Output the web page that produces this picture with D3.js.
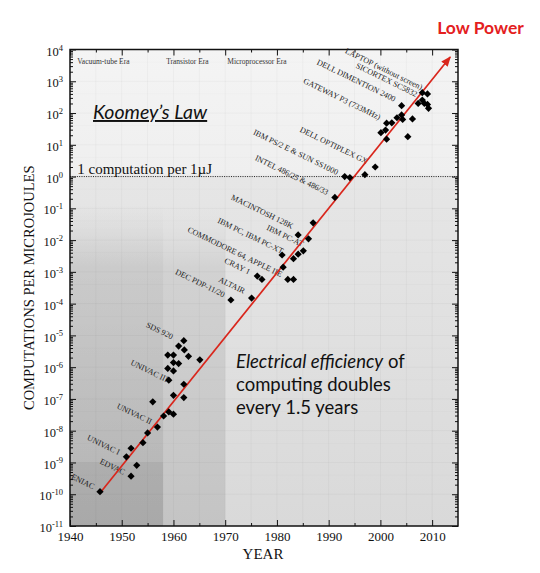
<!DOCTYPE html>
<html>
<head>
<meta charset="utf-8">
<script src="https://cdn.jsdelivr.net/npm/d3@7"></script>
<style>
  body { margin: 0; background: #fff; }
  svg { display: block; }
</style>
</head>
<body>
<div id="graf"></div>
<script>
// Datos
const pointYears = [
  1945.8, 1951.8, 1952.9, 1950.9, 1951.8, 1954.1, 1955.0, 1956.9, 1958.1, 1959.1,
  1960.0, 1956.0, 1960.0, 1962.0, 1962.0, 1959.1, 1960.0, 1958.9, 1961.0, 1960.0,
  1958.9, 1960.0, 1962.9, 1965.1, 1961.0, 1962.0, 1962.1,
  1971.1, 1975.1, 1976.2, 1977.1, 1981.2, 1982.1, 1983.2, 1981.0, 1983.2, 1984.1,
  1985.1, 1984.1, 1986.1, 1987.0, 1991.2, 1993.1, 1994.1, 1997.0, 1999.0,
  2000.1, 2001.0, 2001.2, 2001.2, 2002.2, 2003.2, 2004.1, 2004.3, 2004.1, 2005.3,
  2006.2, 2007.3, 2008.1, 2008.1, 2009.1, 2008.5, 2009.1, 2009.3
];
const pointValues = [
  1.2e-10, 3.7e-10, 8.1e-10, 1.5e-9, 2.8e-9, 4.2e-9, 8.5e-9, 1.3e-8, 2.9e-8, 3.9e-8,
  3.3e-8, 8.1e-8, 1.3e-7, 1.1e-7, 2.9e-7, 3.9e-7, 7.6e-7, 9.1e-7, 1.3e-6, 1.4e-6,
  2.4e-6, 2.4e-6, 2.2e-6, 1.7e-6, 4.6e-6, 6.8e-6, 3.5e-6,
  1.3e-4, 1.5e-4, 7.4e-4, 5.8e-4, 1.4e-3, 5.8e-4, 5.8e-4, 3.4e-3, 2.6e-3, 3.6e-3,
  4.6e-3, 0.0145, 0.011, 0.035, 0.22, 1.0, 0.93, 1.15, 2.0,
  24, 29, 15, 48, 49, 71, 87, 63, 170, 18,
  65, 200, 257, 436, 398, 200, 186, 141
];

// Etiquetas de los equipos (año y valor donde termina el texto)
const labelNames = [
  "LAPTOP (without screen)", "SICORTEX SC5832", "DELL DIMENTION 2400", "GATEWAY P3 (733MHz)",
  "DELL OPTIPLEX GX", "IBM PS/2 E & SUN SS1000", "INTEL 486/25 & 486/33", "MACINTOSH 128K",
  "IBM PC-AT", "IBM PC, IBM PC-XT", "COMMODORE 64, APPLE IIE", "CRAY 1", "ALTAIR",
  "DEC PDP-11/20", "SDS 920", "UNIVAC III", "UNIVAC II", "UNIVAC I", "EDVAC", "ENIAC"
];
const labelYears = [
  2008.2, 2007.2, 2003.0, 2000.1, 1997.6, 1991.9, 1990.0, 1983.2, 1985.2, 1981.3,
  1981.1, 1974.9, 1973.9, 1970.0, 1960.0, 1959.0, 1955.9, 1949.7, 1950.7, 1944.8
];
const labelValues = [
  7.1e2, 4.3e2, 3.0e2, 8.1e1, 3.3, 1.5, 0.35, 0.030, 8.1e-3, 4.9e-3,
  9.1e-4, 1.1e-3, 2.7e-4, 2.1e-4, 1.0e-5, 4.5e-7, 2.1e-8, 2.3e-9, 5.4e-10, 1.9e-10
];

// Eras
const eraNames = ["Vacuum-tube Era", "Transistor Era", "Microprocessor Era"];
const eraStarts = [1940, 1958, 1970];
const eraLabelYears = [1941.4, 1958.6, 1970.4];

// Tendencia (Koomey)
const trendYears = [1946, 2013.5];
const trendValues = [1.2e-10, 5.8e3];

const xTicks = [1940, 1950, 1960, 1970, 1980, 1990, 2000, 2010];
const yExponents = [-11, -10, -9, -8, -7, -6, -5, -4, -3, -2, -1, 0, 1, 2, 3, 4];

// Area total
const W = 540, H = 573;
const margins = { top: 49.5, left: 70, right: 82, bottom: 47 };
const ancho = W - margins.left - margins.right;
const alto = H - margins.top - margins.bottom;

const svg = d3.select("#graf").append("svg").attr("width", W).attr("height", H);

const x = d3.scaleLinear().domain([1940, 2015]).range([margins.left, margins.left + ancho]);
const y = d3.scaleLog().domain([1e-11, 1e4]).range([margins.top + alto, margins.top]);

const defs = svg.append("defs");

function vGrad(id, stops) {
  const g = defs.append("linearGradient").attr("id", id)
    .attr("x1", 0).attr("y1", 0).attr("x2", 0).attr("y2", 1);
  stops.forEach((s) => g.append("stop").attr("offset", s[0]).attr("stop-color", s[1]).attr("stop-opacity", s[2] == null ? 1 : s[2]));
}
vGrad("bgGrad", [[0, "#f4f4f4"], [0.26, "#efefef"], [0.27, "#e6e6e6"], [1, "#d9d9d9"]]);
vGrad("oldGrad", [[0, "#e2e2e2", 0], [0.2, "#d2d2d2"], [1, "#c4c4c4"]]);
vGrad("vacGrad", [[0, "#000", 0], [0.15, "#000", 0.03], [1, "#000", 0.09]]);

// Fondo
svg.append("rect")
  .attr("x", x(1940)).attr("y", y(1e4))
  .attr("width", ancho).attr("height", alto)
  .attr("fill", "url(#bgGrad)");

// Sombreado de eras antiguas
svg.append("rect")
  .attr("x", x(eraStarts[0])).attr("y", y(10 ** -0.8))
  .attr("width", x(eraStarts[2]) - x(eraStarts[0]))
  .attr("height", y(1e-11) - y(10 ** -0.8))
  .attr("fill", "url(#oldGrad)");
svg.append("rect")
  .attr("x", x(eraStarts[0])).attr("y", y(10 ** -0.8))
  .attr("width", x(eraStarts[1]) - x(eraStarts[0]))
  .attr("height", y(1e-11) - y(10 ** -0.8))
  .attr("fill", "url(#vacGrad)");
svg.append("rect")
  .attr("x", x(eraStarts[0])).attr("y", y(1e-9))
  .attr("width", x(eraStarts[1]) - x(eraStarts[0]))
  .attr("height", y(1e-11) - y(1e-9))
  .attr("fill", "#000").attr("fill-opacity", 0.05);

// Rejilla
const grid = svg.append("g").attr("stroke", "#000").attr("stroke-opacity", 0.045).attr("stroke-width", 0.8);
d3.range(1945, 2015, 5).forEach((yr) => {
  grid.append("line").attr("x1", x(yr)).attr("x2", x(yr)).attr("y1", y(1e4)).attr("y2", y(1e-11));
});
yExponents.slice(1, -1).forEach((e) => {
  grid.append("line").attr("x1", x(1940)).attr("x2", x(2015)).attr("y1", y(10 ** e)).attr("y2", y(10 ** e));
  grid.append("line").attr("stroke-opacity", 0.025)
    .attr("x1", x(1940)).attr("x2", x(2015)).attr("y1", y(4 * 10 ** e)).attr("y2", y(4 * 10 ** e));
});

// Linea 1 computacion por uJ
svg.append("line")
  .attr("x1", x(1940)).attr("x2", x(2015)).attr("y1", y(1)).attr("y2", y(1))
  .attr("stroke", "#222").attr("stroke-width", 1).attr("stroke-dasharray", "1,1.3");
svg.append("text")
  .attr("x", x(1941.4)).attr("y", y(1) - 3)
  .attr("font-family", "Liberation Serif").attr("font-size", 15).attr("fill", "#111")
  .text("1 computation per 1\u00b5J");

// Ejes
const minorX = d3.range(1945, 2015, 10);
const minorY = [];
yExponents.slice(0, -1).forEach((e) => d3.range(2, 10).forEach((m) => minorY.push(m * 10 ** e)));

const xAxis = svg.append("g").attr("transform", `translate(0,${y(1e-11)})`)
  .call(d3.axisBottom(x).tickValues(xTicks).tickSize(-6).tickPadding(6).tickFormat(d3.format("d")));
svg.append("g").attr("transform", `translate(0,${y(1e-11)})`)
  .call(d3.axisBottom(x).tickValues(minorX).tickSize(-3).tickFormat(""));
svg.append("g").attr("transform", `translate(0,${y(1e4)})`)
  .call(d3.axisTop(x).tickValues(xTicks).tickSize(-6).tickFormat(""));
svg.append("g").attr("transform", `translate(0,${y(1e4)})`)
  .call(d3.axisTop(x).tickValues(minorX).tickSize(-3).tickFormat(""));

const yAxis = svg.append("g").attr("transform", `translate(${x(1940)},0)`)
  .call(d3.axisLeft(y).tickValues(yExponents.map((e) => 10 ** e)).tickSize(-6).tickPadding(7).tickFormat(""));
svg.append("g").attr("transform", `translate(${x(1940)},0)`)
  .call(d3.axisLeft(y).tickValues(minorY).tickSize(-3).tickFormat(""));
svg.append("g").attr("transform", `translate(${x(2015)},0)`)
  .call(d3.axisRight(y).tickValues(yExponents.map((e) => 10 ** e)).tickSize(-6).tickFormat(""));
svg.append("g").attr("transform", `translate(${x(2015)},0)`)
  .call(d3.axisRight(y).tickValues(minorY).tickSize(-3).tickFormat(""));

svg.selectAll(".domain").remove();
svg.selectAll(".tick line").attr("stroke", "#111").attr("stroke-width", 1);

xAxis.selectAll("text")
  .attr("font-family", "Liberation Serif").attr("font-size", 13).attr("fill", "#111");

// etiquetas 10^n
yAxis.selectAll(".tick text").each(function (d) {
  const t = d3.select(this);
  const e = Math.round(Math.log10(d));
  t.attr("font-family", "Liberation Serif").attr("font-size", 12.5).attr("fill", "#111").attr("dy", "0.45em");
  t.append("tspan").text("10");
  t.append("tspan").attr("font-size", 8.5).attr("dy", "-0.6em").text(e);
});

// Marco
svg.append("rect")
  .attr("x", x(1940)).attr("y", y(1e4)).attr("width", ancho).attr("height", alto)
  .attr("fill", "none").attr("stroke", "#111").attr("stroke-width", 1.5);

// Nombres de eras
svg.append("g").selectAll("text").data(eraNames).join("text")
  .attr("x", (d, i) => x(eraLabelYears[i])).attr("y", y(1e4) + 14)
  .attr("font-family", "Liberation Serif").attr("font-size", 7.5).attr("fill", "#333")
  .text((d) => d);

// Etiquetas de equipos
svg.append("g").selectAll("text").data(labelNames).join("text")
  .attr("transform", (d, i) => `translate(${x(labelYears[i])},${y(labelValues[i])}) rotate(26)`)
  .attr("text-anchor", "end").attr("dy", "0.55em")
  .attr("font-family", "Liberation Serif").attr("font-size", 8.1).attr("fill", "#222")
  .text((d) => d);

// Linea de tendencia
defs.append("marker").attr("id", "flecha")
  .attr("viewBox", "0 0 10 10").attr("refX", 9).attr("refY", 5)
  .attr("markerWidth", 6).attr("markerHeight", 6).attr("orient", "auto")
  .append("path").attr("d", "M0,1 L10,5 L0,9 Z").attr("fill", "#d9261c");

const lineaGen = d3.line().x((d) => x(d[0])).y((d) => y(d[1]));
svg.append("path")
  .attr("d", lineaGen(d3.zip(trendYears, trendValues)))
  .attr("fill", "none").attr("stroke", "#d9261c").attr("stroke-width", 1.7)
  .attr("marker-end", "url(#flecha)");

// Puntos
svg.append("g").selectAll("path").data(pointYears).join("path")
  .attr("d", d3.symbol(d3.symbolSquare, 26))
  .attr("transform", (d, i) => `translate(${x(d)},${y(pointValues[i])}) rotate(45)`)
  .attr("fill", "#000");

// Titulos
svg.append("text")
  .attr("transform", `translate(34,${(y(1e4) + y(1e-11)) / 2}) rotate(-90)`)
  .attr("text-anchor", "middle")
  .attr("font-family", "Liberation Serif").attr("font-size", 14.5).attr("fill", "#111")
  .text("COMPUTATIONS PER MICROJOULES");

svg.append("text")
  .attr("x", 263).attr("y", 559).attr("text-anchor", "middle")
  .attr("font-family", "Liberation Serif").attr("font-size", 15).attr("fill", "#111")
  .text("YEAR");

svg.append("text")
  .attr("x", 93).attr("y", 119)
  .attr("font-family", "Lato").attr("font-style", "italic").attr("font-size", 19.5)
  .attr("text-decoration", "underline").attr("fill", "#111")
  .text("Koomey\u2019s Law");

svg.append("text")
  .attr("x", 480.5).attr("y", 34).attr("text-anchor", "middle")
  .attr("font-family", "Lato").attr("font-weight", "bold").attr("font-size", 17.5).attr("fill", "#e4201e")
  .text("Low Power");

const nota = svg.append("text")
  .attr("font-family", "Lato").attr("font-size", 18.5).attr("fill", "#111");
const l1 = nota.append("tspan").attr("x", 236).attr("y", 368);
l1.append("tspan").attr("font-style", "italic").text("Electrical efficiency");
l1.append("tspan").text(" of");
nota.append("tspan").attr("x", 236).attr("y", 391).text("computing doubles");
nota.append("tspan").attr("x", 236).attr("y", 414).text("every 1.5 years");
</script>
</body>
</html>
